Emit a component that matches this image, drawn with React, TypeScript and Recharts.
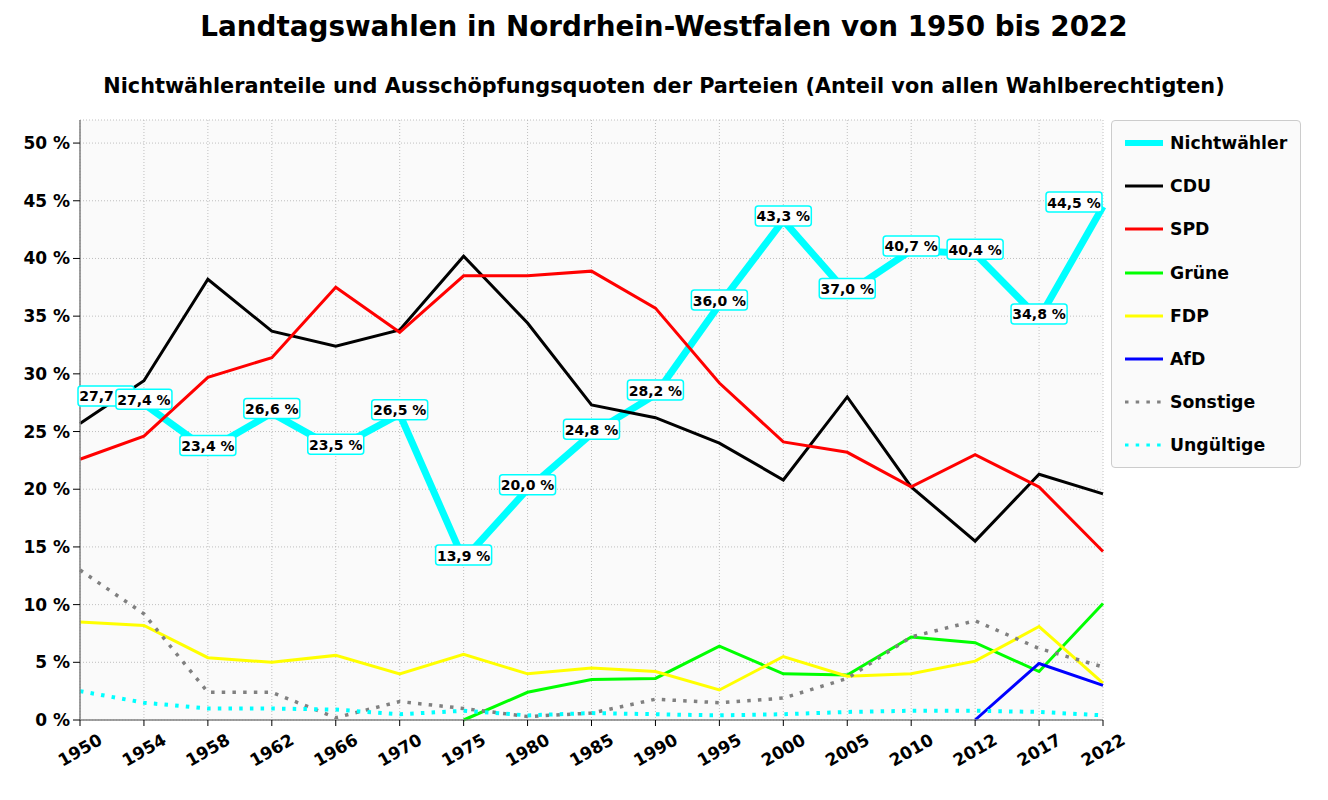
import { CartesianGrid, LabelList, Line, LineChart, XAxis, YAxis } from 'recharts';

const years = ['1950', '1954', '1958', '1962', '1966', '1970', '1975', '1980', '1985', '1990', '1995', '2000', '2005', '2010', '2012', '2017', '2022'];
const nichtwaehler = [27.7, 27.4, 23.4, 26.6, 23.5, 26.5, 13.9, 20.0, 24.8, 28.2, 36.0, 43.3, 37.0, 40.7, 40.4, 34.8, 44.5];
const cdu = [25.7, 29.4, 38.2, 33.7, 32.4, 33.8, 40.2, 34.4, 27.3, 26.2, 24.0, 20.8, 28.0, 20.2, 15.5, 21.3, 19.6];
const spd = [22.6, 24.6, 29.7, 31.4, 37.5, 33.6, 38.5, 38.5, 38.9, 35.7, 29.2, 24.1, 23.2, 20.2, 23.0, 20.2, 14.6];
const gruene = [null, null, null, null, null, null, 0, 2.4, 3.5, 3.6, 6.4, 4.0, 3.9, 7.2, 6.7, 4.2, 10.1];
const fdp = [8.5, 8.2, 5.4, 5.0, 5.6, 4.0, 5.7, 4.0, 4.5, 4.2, 2.6, 5.5, 3.8, 4.0, 5.1, 8.1, 3.2];
const afd = [null, null, null, null, null, null, null, null, null, null, null, null, null, null, 0, 4.9, 3.0];
const sonstige = [13.0, 9.2, 2.4, 2.4, 0.2, 1.6, 1.0, 0.3, 0.6, 1.8, 1.5, 1.9, 3.6, 7.2, 8.6, 6.2, 4.6];
const ungueltige = [2.5, 1.5, 1.0, 1.0, 0.9, 0.5, 0.8, 0.4, 0.6, 0.5, 0.4, 0.5, 0.7, 0.8, 0.8, 0.7, 0.4];
const yTicks = [0, 5, 10, 15, 20, 25, 30, 35, 40, 45, 50];

const data = years.map((year, i) => ({
  year,
  nichtwaehler: nichtwaehler[i],
  cdu: cdu[i],
  spd: spd[i],
  gruene: gruene[i],
  fdp: fdp[i],
  afd: afd[i],
  sonstige: sonstige[i],
  ungueltige: ungueltige[i],
}));

const series = [
  { key: 'nichtwaehler', name: 'Nichtwähler', color: '#00ffff', width: 7, dash: undefined },
  { key: 'cdu', name: 'CDU', color: '#000000', width: 3, dash: undefined },
  { key: 'spd', name: 'SPD', color: '#ff0000', width: 3, dash: undefined },
  { key: 'gruene', name: 'Grüne', color: '#00ff00', width: 3, dash: undefined },
  { key: 'fdp', name: 'FDP', color: '#ffff00', width: 3, dash: undefined },
  { key: 'afd', name: 'AfD', color: '#0000ff', width: 3, dash: undefined },
  { key: 'sonstige', name: 'Sonstige', color: '#808080', width: 3.5, dash: '3.5 7.2' },
  { key: 'ungueltige', name: 'Ungültige', color: '#00ffff', width: 4, dash: '3.5 7.2' },
];

const FONT = '"DejaVu Sans", sans-serif';

const fmt = (v: number) => `${v.toFixed(1).replace('.', ',')} %`;

const ValueLabel = (props: any) => {
  const { x, y, value, index } = props;
  if (value == null) return null;
  const w = 56;
  const h = 20;
  let cx = x;
  if (index === 0) cx = x - 2 + w / 2;
  if (index === years.length - 1) cx = x - 1 - w / 2;
  const cy = y - 4.5;
  return (
    <g>
      <rect x={cx - w / 2} y={cy - h / 2} width={w} height={h} rx={3} fill="#ffffff" stroke="#00ffff" strokeWidth={1.5} />
      <text x={cx} y={cy + 0.5} textAnchor="middle" dominantBaseline="central" fontFamily={FONT} fontWeight="bold" fontSize={14} fill="#000">
        {fmt(value)}
      </text>
    </g>
  );
};

const XTick = (props: any) => {
  const { x, y, payload } = props;
  const cy = y + 22;
  return (
    <text
      x={x}
      y={cy}
      textAnchor="middle"
      dominantBaseline="central"
      transform={`rotate(-30, ${x}, ${cy})`}
      fontFamily={FONT}
      fontWeight="bold"
      fontSize={17}
      fill="#000"
    >
      {payload.value}
    </text>
  );
};

const Legend = () => (
  <div
    style={{
      position: 'absolute',
      left: 1111,
      top: 120,
      width: 190,
      height: 348,
      border: '1px solid #cccccc',
      borderRadius: 4,
      background: '#fafafa',
      boxSizing: 'border-box',
    }}
  >
    {series.map((s, i) => (
      <div key={s.key} style={{ position: 'absolute', left: 12, top: 22 + i * 43.2 - 12, height: 24, display: 'flex', alignItems: 'center' }}>
        <svg width={40} height={10} style={{ marginRight: 6 }}>
          <line x1={1} x2={39} y1={5} y2={5} stroke={s.color} strokeWidth={s.width === 7 ? 6 : 3} strokeDasharray={s.dash} />
        </svg>
        <span style={{ fontFamily: FONT, fontWeight: 'bold', fontSize: 17.3, color: '#000' }}>{s.name}</span>
      </div>
    ))}
  </div>
);

export default function App() {
  return (
    <div style={{ position: 'absolute', left: 0, top: 0, width: 1328, height: 800, background: '#fff' }}>
      <div style={{ position: 'absolute', left: 0, top: 10, width: 1328, textAlign: 'center', fontFamily: FONT, fontWeight: 'bold', fontSize: 27.8 }}>
        Landtagswahlen in Nordrhein-Westfalen von 1950 bis 2022
      </div>
      <div style={{ position: 'absolute', left: 0, top: 74, width: 1328, textAlign: 'center', fontFamily: FONT, fontWeight: 'bold', fontSize: 20.8 }}>
        Nichtwähleranteile und Ausschöpfungsquoten der Parteien (Anteil von allen Wahlberechtigten)
      </div>
      <div style={{ position: 'absolute', left: 0, top: 0 }}>
        <LineChart width={1328} height={800} data={data} margin={{ top: 120, right: 225, bottom: 20, left: 10 }}>
          <CartesianGrid fill="#fafafa" stroke="#b0b0b0" strokeDasharray="1 2" strokeWidth={0.8} />
          <XAxis
            dataKey="year"
            interval={0}
            height={60}
            tick={<XTick />}
            tickSize={6}
            tickLine={{ stroke: '#000' }}
            axisLine={{ stroke: '#808080', strokeWidth: 1.5 }}
          />
          <XAxis xAxisId="top" dataKey="year" orientation="top" height={0} tick={false} tickLine={false} axisLine={{ stroke: '#808080', strokeWidth: 1.5 }} />
          <YAxis
            domain={[0, 52]}
            ticks={yTicks}
            width={70}
            tickSize={7}
            tickMargin={3}
            tickFormatter={(v: number) => `${v} %`}
            tick={{ fontFamily: FONT, fontWeight: 'bold', fontSize: 17, fill: '#000' }}
            tickLine={{ stroke: '#000' }}
            axisLine={{ stroke: '#808080', strokeWidth: 1.5 }}
          />
          <YAxis yAxisId="right" orientation="right" domain={[0, 52]} width={0} tick={false} tickLine={false} axisLine={{ stroke: '#808080', strokeWidth: 1.5 }} />
          {series.map((s) => (
            <Line
              key={s.key}
              dataKey={s.key}
              name={s.name}
              type="linear"
              stroke={s.color}
              strokeWidth={s.width}
              strokeDasharray={s.dash}
              dot={false}
              activeDot={false}
              connectNulls={false}
              isAnimationActive={false}
            />
          ))}
          <Line dataKey="nichtwaehler" stroke="none" dot={false} activeDot={false} legendType="none" isAnimationActive={false}>
            <LabelList dataKey="nichtwaehler" content={<ValueLabel />} />
          </Line>
        </LineChart>
      </div>
      <Legend />
    </div>
  );
}
